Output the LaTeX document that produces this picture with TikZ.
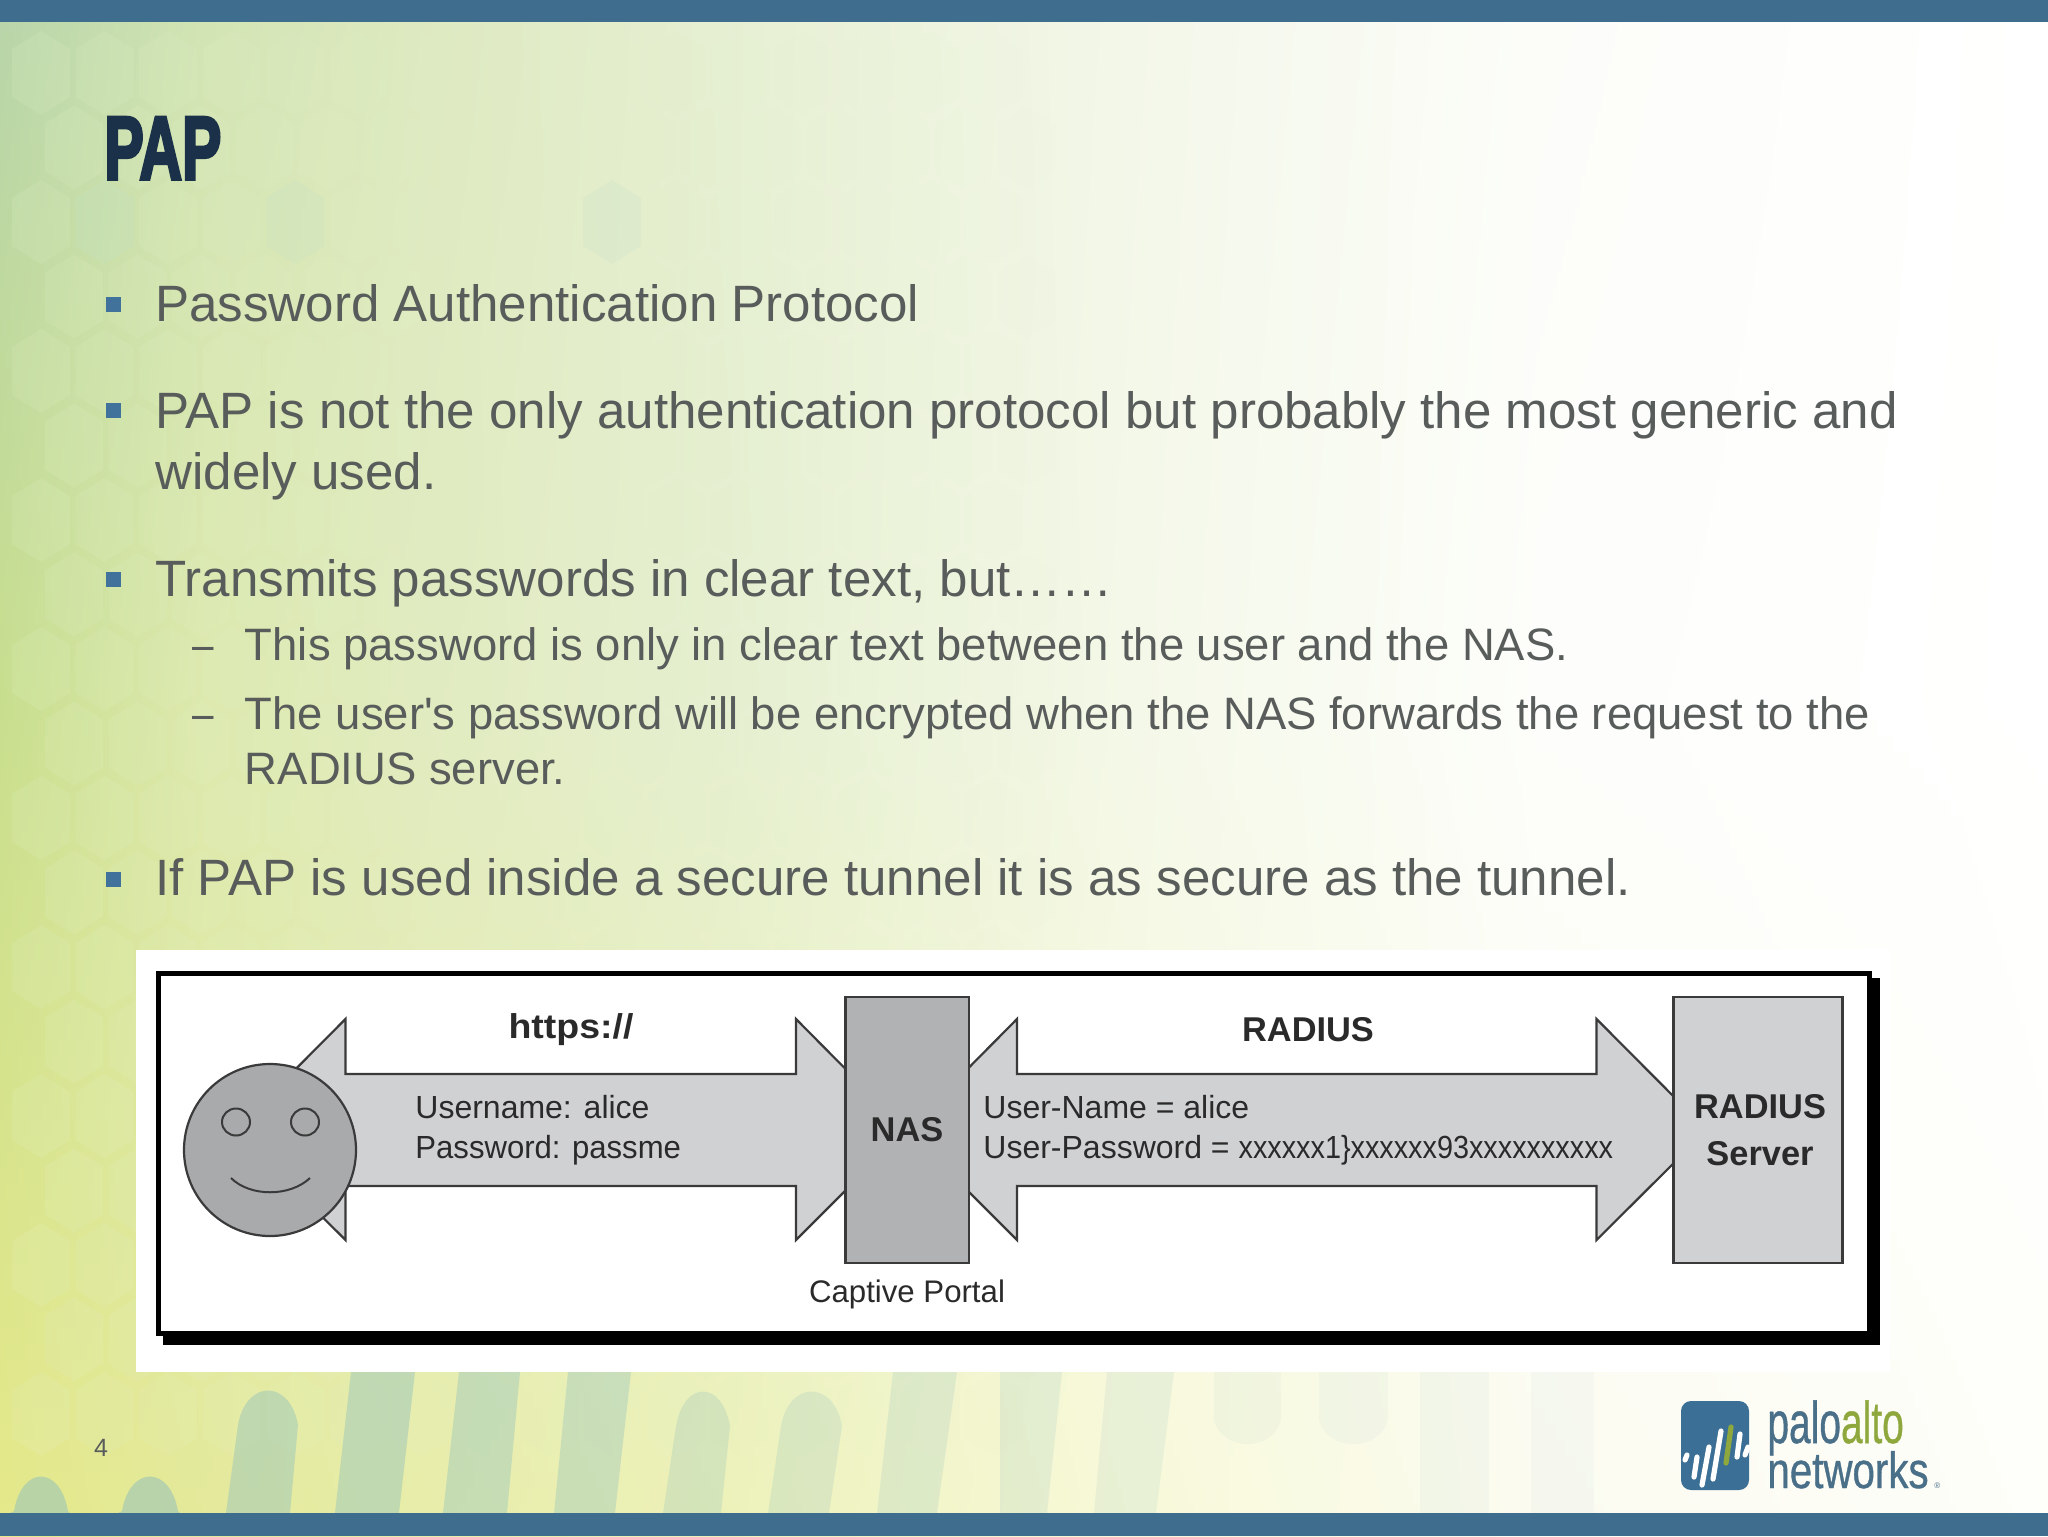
\documentclass[tikz,border=0pt]{standalone}
\usepackage{fontspec}
\setmainfont[Ligatures=TeXOff]{Liberation Sans}
\newfontfamily\titlefont[UprightFont=* Bold,FakeBold=4]{Liberation Sans}
\newfontfamily\logofont[FakeBold=0.8]{Liberation Sans}
\usetikzlibrary{calc,shapes.geometric}
\definecolor{barblue}{HTML}{3F6D8E}
\definecolor{bodygray}{HTML}{585D5B}
\definecolor{titleblue}{HTML}{1B3049}
\definecolor{bulletblue}{HTML}{41729B}
\definecolor{arrowgray}{HTML}{D0D1D3}
\definecolor{nasgray}{HTML}{B1B2B4}
\definecolor{facegray}{HTML}{A9AAAC}
\definecolor{linegray}{HTML}{3A3A3A}
\definecolor{diagtext}{HTML}{2A2A2A}
\definecolor{logoblue}{HTML}{3B6F95}
\definecolor{logotext}{HTML}{4A6F88}
\definecolor{logogreen}{HTML}{8FA83D}
\definecolor{stripeteal}{HTML}{8DBFBE}
% background key colours: rows top / middle / bottom
\definecolor{a0}{HTML}{B8D5AA}\definecolor{a1}{HTML}{D2E4B4}\definecolor{a2}{HTML}{DDE9C0}\definecolor{a3}{HTML}{E6EFD2}\definecolor{a4}{HTML}{F3F7E9}\definecolor{a5}{HTML}{FCFDF9}\definecolor{a6}{HTML}{FFFFFF}
\definecolor{b0}{HTML}{C8DE8E}\definecolor{b1}{HTML}{DDE9AE}\definecolor{b2}{HTML}{E1EBBF}\definecolor{b3}{HTML}{E6EFD0}\definecolor{b4}{HTML}{F4F8E8}\definecolor{b5}{HTML}{FDFEFB}\definecolor{b6}{HTML}{FFFFFF}
\definecolor{c0}{HTML}{E6E98A}\definecolor{c1}{HTML}{E4E99A}\definecolor{c2}{HTML}{E8EDA8}\definecolor{c3}{HTML}{EDF1B8}\definecolor{c4}{HTML}{F8F9D8}\definecolor{c5}{HTML}{FBFBF0}\definecolor{c6}{HTML}{FEFEFA}
\tikzset{
  bodyone/.style={anchor=base west,inner sep=0pt,text=bodygray,font=\fontsize{25.54}{30}\selectfont},
  bodytwo/.style={anchor=base west,inner sep=0pt,text=bodygray,font=\fontsize{22.72}{27}\selectfont},
  bulletsq/.style={fill=bulletblue,draw=none,minimum size=7.5pt,inner sep=0pt,rectangle},
  blockarrow/.style={fill=arrowgray,draw=linegray,line width=1.1pt,line join=miter},
  diagbold/.style={anchor=base,inner sep=0pt,text=diagtext,font=\fontsize{17.2}{20}\selectfont\bfseries},
  diagplain/.style={anchor=base west,inner sep=0pt,text=diagtext,font=\fontsize{16}{20}\selectfont},
  facepart/.style={draw=linegray,line width=1pt},
  logobar/.style={line width=2.6pt,line cap=round,draw=white}
}
\begin{document}
\begin{tikzpicture}[x=0.5pt,y=-0.5pt]
\useasboundingbox (0,0) rectangle (2048,1536);
% background
\foreach \yy in {0,16,...,1520}{
  \pgfmathsetmacro\tv{\yy<700 ? 100-\yy/7 : 100-(\yy-700)/8.36}
  \foreach \i in {0,...,6}{
    \ifdim\yy pt<700pt
      \xglobal\colorlet{s\i}{a\i!\tv!b\i}
    \else
      \xglobal\colorlet{s\i}{b\i!\tv!c\i}
    \fi
  }
  \pgfdeclarehorizontalshading[s0,s1,s2,s3,s4,s5,s6]{bgstrip}{100bp}{color(0bp)=(s0);color(25bp)=(s0);color(30bp)=(s1);color(35bp)=(s2);color(42.5bp)=(s3);color(52.5bp)=(s4);color(62.5bp)=(s5);color(75bp)=(s6);color(100bp)=(s6)}
  \shade[shading=bgstrip] (0,\yy) rectangle (2048,{\yy+24});
}
% honeycomb
\foreach \r in {0,...,18}{
  \foreach \c in {0,...,15}{
    \pgfmathsetmacro\cx{41+63.5*\c+(mod(\r,2)==1 ? 33 : 0)}
    \pgfmathsetmacro\cy{73+74.5*\r}
    \pgfmathsetmacro\op{max(0,0.16*(1-\cx/1050))}
    \fill[fill=white!60!yellow!70!green!35!white,fill opacity=\op]
      (\cx,{\cy-42}) -- ({\cx+29},{\cy-24}) -- ({\cx+29},{\cy+24}) -- (\cx,{\cy+42}) -- ({\cx-29},{\cy+24}) -- ({\cx-29},{\cy-24}) -- cycle;
  }
}
\foreach \hx/\hy in {295/222,105/222,612/222}{
  \fill[fill=teal!40!white,fill opacity=.09]
    (\hx,{\hy-42}) -- ({\hx+29},{\hy-24}) -- ({\hx+29},{\hy+24}) -- (\hx,{\hy+42}) -- ({\hx-29},{\hy+24}) -- ({\hx-29},{\hy-24}) -- cycle;
}
% bottom stripes, open at the top
\foreach \xa/\xb/\xc/\xd/\op in {335/399/351/415/.42,443/507/459/520/.38,554/615/568/631/.34,877/937/893/957/.2,1000/1047/1000/1062/.17,1094/1156/1107/1174/.14,1420/1489/1420/1489/.07,1531/1594/1531/1594/.05}{
  \fill[fill=stripeteal,fill opacity=\op] (\xa,1513) -- (\xc,1372) -- (\xd,1372) -- (\xb,1513) -- cycle;
}
% bottom stripes, rounded top
\foreach \xa/\xb/\xc/\xd/\yt/\op in {10/70/14/68/1473/.5,118/180/122/178/1473/.5,226/290/238/298/1387/.42,663/721/676/730/1388/.25,768/829/781/842/1388/.21}{
  \fill[fill=stripeteal,fill opacity=\op] (\xa,1513) -- (\xc,{\yt+38}) .. controls ({\xc+8},{\yt-8}) and ({\xd-8},{\yt-8}) .. (\xd,{\yt+38}) -- (\xb,1513) -- cycle;
}
% hanging stripes with rounded bottoms
\foreach \xa/\xb in {1214/1281,1319/1388}{
  \fill[fill=stripeteal,fill opacity=.07] (\xa,1372) -- (\xa,1420) .. controls ({\xa+8},1452) and ({\xb-8},1452) .. (\xb,1420) -- (\xb,1372) -- cycle;
}
% bars
\fill[barblue] (0,0) rectangle (2048,22.5);
\fill[barblue] (0,1513) rectangle (2048,1536);
% title
\node[anchor=base west,inner sep=0pt,text=titleblue] (title) at (104,179) {\scalebox{0.66}[1]{\titlefont\fontsize{44.7}{50}\selectfont PAP}};
% bullets
\node[bulletsq] (b1) at (113,304.5) {};
\node[bulletsq] (b2) at (113,410.5) {};
\node[bulletsq] (b3) at (113,579.6) {};
\node[bulletsq] (b4) at (113,879) {};
\node[bodyone] (t1) at (155,321) {Password Authentication Protocol};
\node[bodyone] (t2) at (155,428) {PAP is not the only authentication protocol but probably the most generic and};
\node[bodyone] (t2b) at (155,489) {widely used.};
\node[bodyone] (t3) at (155,596) {Transmits passwords in clear text, but……};
\node[bodytwo] (d1) at (192,660) {\scalebox{0.85}[1]{–}};
\node[bodytwo] (t4) at (244.5,660) {This password is only in clear text between the user and the NAS.};
\node[bodytwo] (d2) at (192,729) {\scalebox{0.85}[1]{–}};
\node[bodytwo] (t5) at (244.5,729) {The user's password will be encrypted when the NAS forwards the request to the};
\node[bodytwo] (t5b) at (244.5,784) {RADIUS server.};
\node[bodyone] (t6) at (155,895) {If PAP is used inside a secure tunnel it is as secure as the tunnel.};
% embedded figure
\fill[white] (136,950) rectangle (1890,1372);
\fill[black] (163,978) rectangle (1880,1345);
\draw[fill=white,draw=black,line width=2.5pt] (158,973) rectangle (1869,1333);
% block arrows
\draw[blockarrow] (235,1130) -- (345.5,1019) -- (345.5,1074) -- (796,1074) -- (796,1019) -- (906,1130) -- (796,1240) -- (796,1186) -- (345.5,1186) -- (345.5,1240) -- cycle;
\draw[blockarrow] (907,1130) -- (1017,1019) -- (1017,1074) -- (1596.5,1074) -- (1596.5,1019) -- (1707,1130) -- (1596.5,1240) -- (1596.5,1186) -- (1017,1186) -- (1017,1240) -- cycle;
% boxes
\node[draw=linegray,line width=1.1pt,fill=nasgray,minimum width=61.75pt,minimum height=133pt,inner sep=0pt] (nas) at (907.25,1130) {};
\node[draw=linegray,line width=1.1pt,fill=arrowgray,minimum width=84.5pt,minimum height=133pt,inner sep=0pt] (radsrv) at (1758,1130) {};
% face
\node[circle,draw=linegray,line width=1.1pt,fill=facegray,minimum size=86pt,inner sep=0pt] (face) at (270,1150) {};
\node[ellipse,facepart,minimum width=14pt,minimum height=13.5pt,inner sep=0pt] (eyel) at (236,1122) {};
\node[ellipse,facepart,minimum width=14pt,minimum height=13.5pt,inner sep=0pt] (eyer) at (305,1122) {};
\draw[facepart] (231,1178) .. controls (250,1197) and (290,1197) .. (310,1178);
% diagram labels
\node[diagbold] (lhttps) at (571,1038) {\scalebox{1.09}[1]{https://}};
\node[diagbold] (lradius) at (1308,1041) {RADIUS};
\node[diagbold] (lnas) at (907,1141) {NAS};
\node[diagbold] (lrs1) at (1760,1118) {RADIUS};
\node[diagbold] (lrs2) at (1760,1165) {Server};
\node[diagplain] (lu) at (415,1118) {Username: alice};
\node[diagplain] (lp) at (415,1158) {\scalebox{0.972}[1]{Password: passme}};
\node[diagplain,anchor=base,font=\fontsize{15.6}{20}\selectfont] (lcap) at (907,1302) {Captive Portal};
\node[diagplain] (lun) at (983,1118) {User-Name = alice};
\node[diagplain] (lup) at (983,1158) {User-Password = \scalebox{0.9}[1]{xxxxxx1\}xxxxxx93xxxxxxxxxx}};
% page number
\node[anchor=base,inner sep=0pt,text=bodygray,font=\fontsize{12.5}{15}\selectfont] (pg) at (101,1456) {4};
% logo
\fill[logoblue,rounded corners=5pt] (1681,1401) rectangle (1749,1490);
\draw[logobar] (1685,1460) -- (1687,1455);
\draw[logobar] (1694,1477) -- (1697,1457);
\draw[logobar] (1702,1485) -- (1709,1447);
\draw[logobar] (1713,1479) -- (1721,1431);
\draw[logobar,draw=logogreen] (1726,1463) -- (1731,1427);
\draw[logobar] (1737,1457) -- (1740,1434);
\draw[logobar] (1745,1455) -- (1748,1447);
\node[anchor=base west,inner sep=0pt] (lg1) at (1767,1443) {\scalebox{0.66}[1]{\logofont\fontsize{29.5}{32}\selectfont\textcolor{logotext}{palo}\textcolor{logogreen}{alto}}};
\node[anchor=base west,inner sep=0pt,text=logotext] (lg2) at (1767,1488) {\scalebox{0.79}[1]{\logofont\fontsize{25.5}{28}\selectfont networks}};
\node[anchor=base west,inner sep=0pt,text=logotext,font=\fontsize{4}{5}\selectfont] (lg3) at (1934,1488) {®};
\end{tikzpicture}
\end{document}
